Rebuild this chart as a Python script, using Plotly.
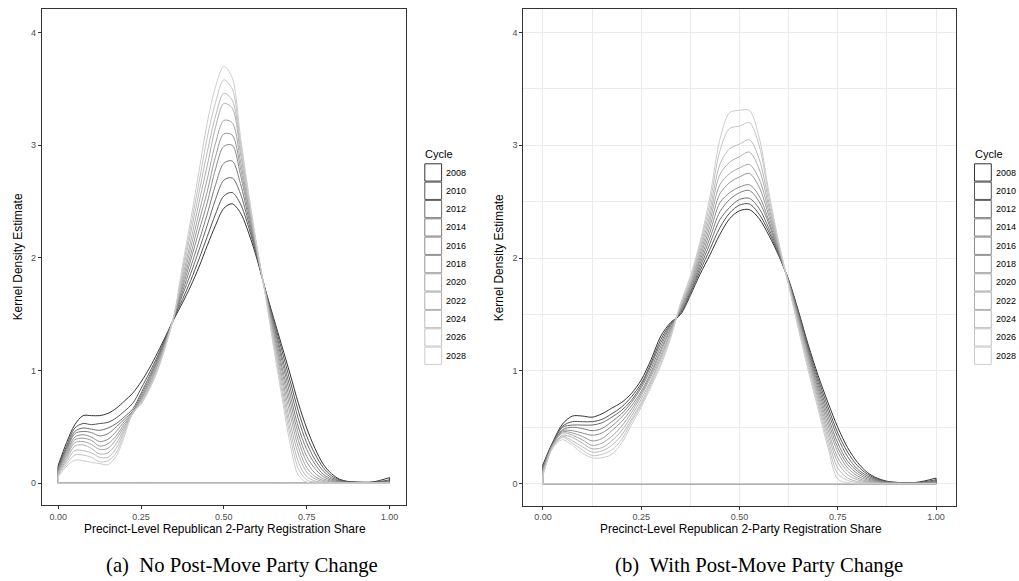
import plotly.graph_objects as go

# ---------------- data ----------------
X_SHARE = [0.0, 0.025, 0.05, 0.075, 0.1, 0.125, 0.15, 0.175, 0.2, 0.225,
           0.25, 0.275, 0.3, 0.325, 0.35, 0.375, 0.4, 0.425, 0.45, 0.475,
           0.5, 0.525, 0.55, 0.575, 0.6, 0.625, 0.65, 0.675, 0.7, 0.725,
           0.75, 0.775, 0.8, 0.825, 0.85, 0.875, 0.9, 0.95, 1.0]

CYCLES = ["2008", "2010", "2012", "2014", "2016", "2018",
          "2020", "2022", "2024", "2026", "2028"]

# Panel (a): No Post-Move Party Change
A_2008 = [0.16, 0.36, 0.52, 0.60, 0.60, 0.60, 0.62, 0.665, 0.73, 0.80, 0.90, 1.02, 1.16, 1.31, 1.46, 1.60, 1.75, 1.92, 2.11, 2.29, 2.44, 2.48, 2.40, 2.22, 1.99, 1.72, 1.47, 1.22, 0.97, 0.71, 0.49, 0.31, 0.17, 0.085, 0.035, 0.016, 0.011, 0.012, 0.05]
A_2010 = [0.15, 0.33, 0.49, 0.53, 0.52, 0.53, 0.54, 0.58, 0.64, 0.71, 0.84, 0.98, 1.13, 1.30, 1.47, 1.63, 1.80, 1.99, 2.19, 2.39, 2.55, 2.58, 2.48, 2.27, 2.01, 1.72, 1.45, 1.18, 0.91, 0.64, 0.42, 0.26, 0.14, 0.067, 0.028, 0.013, 0.009, 0.008, 0.03]
A_2012 = [0.14, 0.31, 0.46, 0.49, 0.48, 0.47, 0.49, 0.53, 0.59, 0.66, 0.80, 0.95, 1.11, 1.29, 1.47, 1.67, 1.86, 2.07, 2.29, 2.52, 2.69, 2.71, 2.57, 2.31, 2.02, 1.71, 1.43, 1.13, 0.85, 0.57, 0.36, 0.21, 0.11, 0.05, 0.021, 0.01, 0.007, 0.006, 0.02]
A_2014 = [0.13, 0.29, 0.44, 0.46, 0.45, 0.42, 0.44, 0.50, 0.57, 0.64, 0.78, 0.93, 1.09, 1.28, 1.48, 1.70, 1.92, 2.15, 2.39, 2.65, 2.84, 2.86, 2.66, 2.35, 2.03, 1.71, 1.41, 1.09, 0.79, 0.50, 0.30, 0.17, 0.08, 0.037, 0.016, 0.008, 0.006, 0.004, 0.012]
A_2016 = [0.12, 0.27, 0.41, 0.43, 0.41, 0.37, 0.39, 0.46, 0.55, 0.63, 0.76, 0.91, 1.08, 1.27, 1.48, 1.73, 1.98, 2.24, 2.49, 2.79, 2.99, 3.00, 2.74, 2.39, 2.04, 1.70, 1.38, 1.04, 0.73, 0.44, 0.24, 0.13, 0.06, 0.026, 0.011, 0.006, 0.004, 0.003, 0.008]
A_2018 = [0.11, 0.25, 0.385, 0.40, 0.38, 0.33, 0.35, 0.42, 0.53, 0.62, 0.75, 0.89, 1.06, 1.26, 1.48, 1.76, 2.03, 2.32, 2.59, 2.90, 3.10, 3.09, 2.80, 2.42, 2.05, 1.70, 1.35, 1.00, 0.67, 0.38, 0.19, 0.09, 0.04, 0.018, 0.008, 0.004, 0.003, 0.002, 0.005]
A_2020 = [0.10, 0.23, 0.36, 0.37, 0.345, 0.30, 0.31, 0.39, 0.51, 0.62, 0.74, 0.88, 1.05, 1.25, 1.49, 1.79, 2.09, 2.40, 2.70, 3.02, 3.22, 3.20, 2.86, 2.45, 2.06, 1.70, 1.33, 0.95, 0.61, 0.32, 0.14, 0.06, 0.025, 0.011, 0.005, 0.003, 0.002, 0.001, 0.003]
A_2022 = [0.09, 0.21, 0.33, 0.34, 0.31, 0.26, 0.27, 0.35, 0.49, 0.62, 0.73, 0.86, 1.04, 1.25, 1.49, 1.82, 2.15, 2.49, 2.82, 3.16, 3.37, 3.33, 2.93, 2.48, 2.07, 1.69, 1.30, 0.91, 0.54, 0.26, 0.10, 0.04, 0.015, 0.007, 0.003, 0.002, 0.001, 0.0, 0.002]
A_2024 = [0.08, 0.19, 0.29, 0.29, 0.27, 0.23, 0.23, 0.31, 0.47, 0.62, 0.72, 0.85, 1.02, 1.24, 1.49, 1.86, 2.22, 2.58, 2.94, 3.26, 3.46, 3.40, 2.98, 2.51, 2.08, 1.69, 1.27, 0.86, 0.48, 0.19, 0.06, 0.02, 0.008, 0.004, 0.002, 0.001, 0.0, 0.0, 0.001]
A_2026 = [0.07, 0.17, 0.25, 0.25, 0.23, 0.19, 0.20, 0.27, 0.45, 0.62, 0.71, 0.84, 1.01, 1.23, 1.49, 1.89, 2.28, 2.67, 3.07, 3.38, 3.58, 3.50, 3.03, 2.54, 2.09, 1.68, 1.24, 0.82, 0.42, 0.13, 0.03, 0.01, 0.003, 0.002, 0.001, 0.0, 0.0, 0.0, 0.0]
A_2028 = [0.06, 0.15, 0.205, 0.20, 0.185, 0.175, 0.165, 0.24, 0.42, 0.63, 0.70, 0.83, 1.00, 1.22, 1.50, 1.93, 2.34, 2.77, 3.20, 3.52, 3.70, 3.60, 3.08, 2.57, 2.10, 1.68, 1.21, 0.77, 0.35, 0.07, 0.01, 0.0, 0.0, 0.0, 0.0, 0.0, 0.0, 0.0, 0.0]

# Panel (b): With Post-Move Party Change
B_2008 = [0.17, 0.37, 0.53, 0.60, 0.60, 0.59, 0.62, 0.67, 0.72, 0.80, 0.92, 1.10, 1.31, 1.43, 1.50, 1.67, 1.86, 2.03, 2.21, 2.35, 2.42, 2.43, 2.35, 2.20, 2.02, 1.81, 1.53, 1.23, 0.96, 0.72, 0.50, 0.32, 0.19, 0.10, 0.05, 0.022, 0.012, 0.012, 0.05]
B_2010 = [0.16, 0.36, 0.51, 0.55, 0.55, 0.55, 0.57, 0.62, 0.68, 0.77, 0.89, 1.07, 1.28, 1.42, 1.51, 1.69, 1.89, 2.08, 2.27, 2.40, 2.47, 2.48, 2.39, 2.23, 2.03, 1.80, 1.52, 1.21, 0.93, 0.68, 0.45, 0.28, 0.16, 0.085, 0.042, 0.019, 0.011, 0.009, 0.035]
B_2012 = [0.15, 0.36, 0.50, 0.52, 0.52, 0.52, 0.54, 0.59, 0.65, 0.74, 0.87, 1.05, 1.25, 1.41, 1.52, 1.70, 1.92, 2.13, 2.34, 2.45, 2.52, 2.53, 2.44, 2.26, 2.04, 1.80, 1.51, 1.19, 0.90, 0.64, 0.41, 0.24, 0.13, 0.07, 0.034, 0.016, 0.009, 0.007, 0.025]
B_2014 = [0.14, 0.35, 0.48, 0.50, 0.49, 0.47, 0.49, 0.55, 0.62, 0.72, 0.85, 1.02, 1.22, 1.40, 1.53, 1.72, 1.95, 2.18, 2.41, 2.52, 2.58, 2.60, 2.50, 2.30, 2.05, 1.79, 1.49, 1.17, 0.87, 0.60, 0.36, 0.20, 0.11, 0.056, 0.027, 0.013, 0.008, 0.006, 0.018]
B_2016 = [0.13, 0.35, 0.47, 0.47, 0.45, 0.43, 0.45, 0.51, 0.59, 0.69, 0.82, 0.99, 1.19, 1.38, 1.54, 1.74, 1.98, 2.23, 2.49, 2.58, 2.63, 2.65, 2.55, 2.33, 2.06, 1.79, 1.48, 1.15, 0.84, 0.56, 0.32, 0.17, 0.09, 0.044, 0.021, 0.01, 0.006, 0.005, 0.012]
B_2018 = [0.12, 0.34, 0.46, 0.45, 0.42, 0.38, 0.40, 0.47, 0.55, 0.66, 0.80, 0.97, 1.17, 1.37, 1.55, 1.75, 2.01, 2.28, 2.57, 2.67, 2.72, 2.75, 2.63, 2.37, 2.08, 1.78, 1.46, 1.13, 0.81, 0.52, 0.28, 0.14, 0.07, 0.033, 0.016, 0.008, 0.005, 0.004, 0.008]
B_2020 = [0.11, 0.34, 0.45, 0.43, 0.39, 0.34, 0.36, 0.42, 0.51, 0.63, 0.78, 0.95, 1.14, 1.35, 1.56, 1.77, 2.04, 2.33, 2.65, 2.75, 2.80, 2.83, 2.70, 2.41, 2.09, 1.78, 1.45, 1.11, 0.78, 0.48, 0.23, 0.11, 0.05, 0.024, 0.011, 0.006, 0.004, 0.003, 0.005]
B_2022 = [0.10, 0.33, 0.43, 0.41, 0.36, 0.31, 0.32, 0.38, 0.47, 0.60, 0.75, 0.92, 1.12, 1.34, 1.57, 1.78, 2.07, 2.38, 2.74, 2.85, 2.90, 2.94, 2.79, 2.45, 2.10, 1.77, 1.43, 1.08, 0.75, 0.44, 0.19, 0.08, 0.035, 0.016, 0.007, 0.004, 0.003, 0.002, 0.003]
B_2024 = [0.09, 0.33, 0.42, 0.38, 0.33, 0.28, 0.29, 0.34, 0.43, 0.57, 0.72, 0.90, 1.10, 1.32, 1.58, 1.80, 2.10, 2.43, 2.83, 2.97, 3.01, 3.05, 2.88, 2.49, 2.11, 1.77, 1.41, 1.06, 0.72, 0.40, 0.14, 0.05, 0.02, 0.01, 0.004, 0.002, 0.002, 0.001, 0.002]
B_2026 = [0.08, 0.32, 0.41, 0.36, 0.30, 0.25, 0.26, 0.30, 0.39, 0.55, 0.70, 0.88, 1.07, 1.31, 1.59, 1.82, 2.13, 2.49, 2.95, 3.15, 3.17, 3.20, 3.00, 2.54, 2.13, 1.76, 1.39, 1.03, 0.69, 0.36, 0.09, 0.03, 0.01, 0.005, 0.002, 0.001, 0.001, 0.0, 0.001]
B_2028 = [0.07, 0.32, 0.39, 0.34, 0.27, 0.23, 0.23, 0.26, 0.36, 0.52, 0.68, 0.86, 1.05, 1.29, 1.60, 1.84, 2.15, 2.55, 3.05, 3.29, 3.31, 3.31, 3.07, 2.58, 2.14, 1.76, 1.37, 1.00, 0.66, 0.32, 0.04, 0.01, 0.0, 0.0, 0.0, 0.0, 0.0, 0.0, 0.0]

PANEL_A = [A_2008, A_2010, A_2012, A_2014, A_2016, A_2018, A_2020, A_2022, A_2024, A_2026, A_2028]
PANEL_B = [B_2008, B_2010, B_2012, B_2014, B_2016, B_2018, B_2020, B_2022, B_2024, B_2026, B_2028]

X_TICKS = [0, 0.25, 0.5, 0.75, 1.0]
X_TICK_TEXT = ["0.00", "0.25", "0.50", "0.75", "1.00"]
Y_TICKS = [0, 1, 2, 3, 4]

X_TITLE = "Precinct-Level Republican 2-Party Registration Share"
Y_TITLE = "Kernel Density Estimate"
LEGEND_TITLE = "Cycle"
CAPTION_A = "(a)\u2002No Post-Move Party Change"
CAPTION_B = "(b)\u2002With Post-Move Party Change"

# ---------------- styling ----------------
W, H = 1019, 581
SANS = "Liberation Sans, Arial, Helvetica, sans-serif"
SERIF = "Liberation Serif, Times New Roman, serif"


def grey_palette(n, start=0.2, end=0.8, gamma=2.2):
    lo, hi = start ** gamma, end ** gamma
    cols = []
    for i in range(n):
        v = (lo + (hi - lo) * i / (n - 1)) ** (1 / gamma)
        g = int(round(v * 255))
        cols.append(f"rgb({g},{g},{g})")
    return cols


COLORS = grey_palette(len(CYCLES))


def px_x(p):
    return p / W


def px_y(p):
    return 1 - p / H


fig = go.Figure()

for panel, (xa, ya) in ((PANEL_A, ("x", "y")), (PANEL_B, ("x2", "y2"))):
    for name, ys, col in zip(CYCLES, panel, COLORS):
        # density outline
        fig.add_trace(go.Scatter(
            x=X_SHARE, y=ys, mode="lines", name=name, showlegend=False,
            line=dict(color=col, width=1, shape="spline", smoothing=0.9),
            xaxis=xa, yaxis=ya, hoverinfo="skip"))
        # polygon closure along the baseline (as geom_density draws it)
        fig.add_trace(go.Scatter(
            x=[X_SHARE[-1], X_SHARE[-1], X_SHARE[0], X_SHARE[0]],
            y=[ys[-1], 0, 0, ys[0]], mode="lines", showlegend=False,
            line=dict(color=col, width=1), xaxis=xa, yaxis=ya, hoverinfo="skip"))

axis_common = dict(
    showline=True, mirror=True, linecolor="#333333", linewidth=1,
    ticks="outside", ticklen=3, tickcolor="#333333", tickwidth=1,
    tickfont=dict(family=SANS, size=9, color="#4d4d4d"),
    zeroline=False,
)

# panel geometry (page pixels)
A_L, A_R, A_T, A_B = 41.7, 406.0, 9.3, 505.0
B_L, B_R, B_T, B_B = 523.3, 955.7, 9.3, 505.5

fig.update_layout(
    width=W, height=H,
    margin=dict(l=0, r=0, t=0, b=0),
    paper_bgcolor="white", plot_bgcolor="white",
    showlegend=False,
    xaxis=dict(domain=[px_x(A_L), px_x(A_R)], range=[-0.05, 1.05], anchor="y",
               tickvals=X_TICKS, ticktext=X_TICK_TEXT, showgrid=False, **axis_common),
    yaxis=dict(domain=[px_y(A_B), px_y(A_T)], range=[-0.193, 4.206], anchor="x",
               tickvals=Y_TICKS, showgrid=False, **axis_common),
    xaxis2=dict(domain=[px_x(B_L), px_x(B_R)], range=[-0.05, 1.05], anchor="y2",
                tickmode="linear", tick0=0, dtick=0.25, tickformat=".2f",
                showgrid=True, gridcolor="#ebebeb", gridwidth=1,
                minor=dict(tick0=0, dtick=0.125, showgrid=True, gridcolor="#ebebeb",
                           gridwidth=1, ticks=""),
                **axis_common),
    yaxis2=dict(domain=[px_y(B_B), px_y(B_T)], range=[-0.193, 4.206], anchor="x2",
                tickmode="linear", tick0=0, dtick=1,
                showgrid=True, gridcolor="#ebebeb", gridwidth=1,
                minor=dict(tick0=0, dtick=0.5, showgrid=True, gridcolor="#ebebeb",
                           gridwidth=1, ticks=""),
                **axis_common),
)

annotations = []
shapes = []

for (plot_l, plot_r, plot_t, plot_b, leg_x, caption, cap_x) in (
        (A_L, A_R, A_T, A_B, 424.3, CAPTION_A, 242.0),
        (B_L, B_R, B_T, B_B, 974.0, CAPTION_B, 759.0)):
    # axis titles
    annotations.append(dict(
        text=X_TITLE, x=px_x((plot_l + plot_r) / 2 + 1.0), y=px_y(529), xref="paper", yref="paper",
        xanchor="center", yanchor="middle", showarrow=False,
        font=dict(family=SANS, size=11.9, color="black")))
    annotations.append(dict(
        text=Y_TITLE, x=px_x(plot_l - 23.5), y=px_y((plot_t + plot_b) / 2), xref="paper", yref="paper",
        xanchor="center", yanchor="middle", showarrow=False, textangle=-90,
        font=dict(family=SANS, size=11.9, color="black")))
    # caption
    annotations.append(dict(
        text=caption, x=px_x(cap_x), y=px_y(565), xref="paper", yref="paper",
        xanchor="center", yanchor="middle", showarrow=False,
        font=dict(family=SERIF, size=20.7, color="black")))
    # legend
    annotations.append(dict(
        text=LEGEND_TITLE, x=px_x(leg_x - 1), y=px_y(154), xref="paper", yref="paper",
        xanchor="left", yanchor="middle", showarrow=False,
        font=dict(family=SANS, size=11, color="black")))
    step = 18.33
    top0 = 163.3
    for i, (name, col) in enumerate(zip(CYCLES, COLORS)):
        t = top0 + i * step
        shapes.append(dict(
            type="rect", xref="paper", yref="paper",
            x0=px_x(leg_x + 0.5), x1=px_x(leg_x + 17.3),
            y0=px_y(t + 0.5), y1=px_y(t + 17.8),
            line=dict(color=col, width=1), fillcolor="white"))
        annotations.append(dict(
            text=name, x=px_x(leg_x + 19.5), y=px_y(t + 9.2), xref="paper", yref="paper",
            xanchor="left", yanchor="middle", showarrow=False,
            font=dict(family=SANS, size=9, color="black")))

fig.update_layout(annotations=annotations, shapes=shapes)

# the figure fills the whole page: drop the default page margin and scrollbars
fig.write_html(
    "out.html",
    config={"displayModeBar": False},
    post_script="document.body.style.margin='0';"
                "document.body.style.overflow='hidden';"
                "document.documentElement.style.overflow='hidden';")
